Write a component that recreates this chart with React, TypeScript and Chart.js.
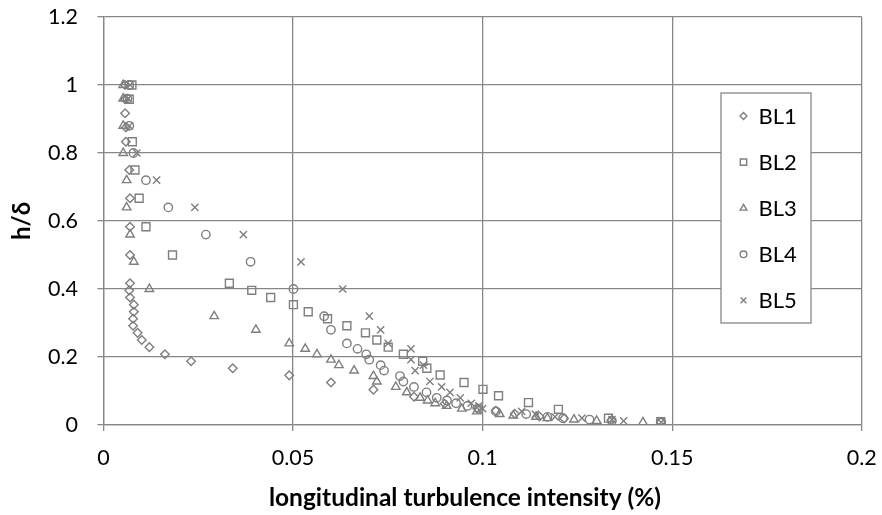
import React, { useEffect, useRef } from 'react';
import { Chart, registerables } from 'chart.js';
import { drawPoint } from 'chart.js/helpers';

Chart.register(...registerables);

// ---- data ----
const seriesNames = ['BL1', 'BL2', 'BL3', 'BL4', 'BL5'];

const bl1X = [0.0057, 0.0057, 0.0057, 0.0059, 0.0059, 0.0068, 0.007, 0.007, 0.007, 0.007, 0.0068, 0.007, 0.008, 0.008, 0.0078, 0.0078, 0.009, 0.0101, 0.0121, 0.0162, 0.0231, 0.0341, 0.049, 0.06, 0.0712, 0.0819, 0.09, 0.0985, 0.1035, 0.1085, 0.115, 0.1215, 0.134, 0.147];
const bl1Y = [1.0, 0.958, 0.917, 0.875, 0.833, 0.75, 0.667, 0.583, 0.5, 0.417, 0.396, 0.375, 0.354, 0.333, 0.3125, 0.292, 0.271, 0.25, 0.229, 0.208, 0.1875, 0.167, 0.146, 0.125, 0.104, 0.083, 0.0625, 0.05, 0.042, 0.033, 0.025, 0.019, 0.014, 0.009];

const bl2X = [0.0075, 0.0068, 0.0076, 0.0083, 0.0094, 0.0112, 0.0182, 0.0332, 0.0391, 0.0441, 0.0501, 0.054, 0.0591, 0.0642, 0.0691, 0.0721, 0.0751, 0.0791, 0.0842, 0.0853, 0.0888, 0.0951, 0.1001, 0.1042, 0.1121, 0.12, 0.1332, 0.147];
const bl2Y = [1.0, 0.958, 0.833, 0.75, 0.667, 0.583, 0.5, 0.417, 0.396, 0.375, 0.354, 0.333, 0.3125, 0.292, 0.271, 0.25, 0.229, 0.208, 0.1875, 0.167, 0.147, 0.125, 0.105, 0.086, 0.066, 0.046, 0.02, 0.01];

const bl3X = [0.0052, 0.0052, 0.0052, 0.0052, 0.0061, 0.0061, 0.007, 0.008, 0.0121, 0.0292, 0.0402, 0.049, 0.0532, 0.0563, 0.06, 0.0621, 0.0661, 0.0712, 0.0721, 0.0771, 0.08, 0.0835, 0.0855, 0.0875, 0.0905, 0.0945, 0.0985, 0.1045, 0.1081, 0.1141, 0.1171, 0.1241, 0.1301, 0.1423];
const bl3Y = [1.0, 0.96, 0.88, 0.8, 0.72, 0.64, 0.56, 0.48, 0.4, 0.32, 0.28, 0.24, 0.224, 0.208, 0.192, 0.176, 0.16, 0.144, 0.128, 0.112, 0.096, 0.08, 0.072, 0.064, 0.056, 0.048, 0.04, 0.032, 0.028, 0.024, 0.02, 0.016, 0.012, 0.008];

const bl4X = [0.0068, 0.0063, 0.0068, 0.0079, 0.0112, 0.0171, 0.027, 0.0388, 0.0501, 0.0582, 0.06, 0.0642, 0.067, 0.0693, 0.0701, 0.0731, 0.074, 0.0782, 0.0791, 0.0819, 0.0852, 0.0879, 0.0906, 0.093, 0.096, 0.099, 0.1035, 0.1115, 0.1171, 0.1212, 0.1282, 0.1341, 0.1471];
const bl4Y = [1.0, 0.96, 0.88, 0.8, 0.72, 0.64, 0.56, 0.48, 0.4, 0.32, 0.28, 0.24, 0.224, 0.208, 0.192, 0.176, 0.16, 0.144, 0.128, 0.112, 0.096, 0.08, 0.072, 0.064, 0.056, 0.048, 0.04, 0.032, 0.024, 0.02, 0.016, 0.012, 0.008];

const bl5X = [0.007, 0.0065, 0.0068, 0.0088, 0.014, 0.0241, 0.0369, 0.0521, 0.0631, 0.0701, 0.0731, 0.0751, 0.0811, 0.0811, 0.0844, 0.0822, 0.0861, 0.0892, 0.0914, 0.0941, 0.097, 0.099, 0.1, 0.1103, 0.1139, 0.1191, 0.1262, 0.1341, 0.1372, 0.1471];
const bl5Y = [1.0, 0.96, 0.88, 0.8, 0.72, 0.64, 0.56, 0.48, 0.4, 0.32, 0.28, 0.24, 0.224, 0.192, 0.176, 0.16, 0.128, 0.112, 0.096, 0.08, 0.064, 0.056, 0.048, 0.04, 0.032, 0.024, 0.02, 0.016, 0.012, 0.008];

const xTicks = [0, 0.05, 0.1, 0.15, 0.2];
const yTicks = [0, 0.2, 0.4, 0.6, 0.8, 1, 1.2];
const xTitle = 'longitudinal turbulence intensity (%)';
const yTitle = 'h/δ';

// ---- styles ----
const FONT = 'Lato';
const MARK = '#7f7f7f';
const GRID = '#878787';
const pointStyles = ['rectRot', 'rect', 'triangle', 'circle', 'crossRot'];
const pointRadii = [4.3, 5.6, 4.9, 4.2, 5.1];

const legendBoxPlugin = {
  id: 'legendBox',
  afterDraw(chart: any) {
    const ctx = chart.ctx;
    const bx = 721, by = 93, bw = 90, bh = 230;
    ctx.save();
    ctx.fillStyle = '#ffffff';
    ctx.fillRect(bx, by, bw, bh);
    ctx.strokeStyle = GRID;
    ctx.lineWidth = 1.3;
    ctx.strokeRect(bx, by, bw, bh);
    chart.data.datasets.forEach((ds: any, i: number) => {
      const cy = by + 23 + i * 46.1;
      ctx.strokeStyle = MARK;
      ctx.fillStyle = 'rgba(0,0,0,0)';
      ctx.lineWidth = 1.4;
      drawPoint(ctx, { pointStyle: ds.pointStyle, radius: ds.pointRadius * 0.8, rotation: 0, borderWidth: 1.4 }, 743.5, cy);
      ctx.fillStyle = '#000';
      ctx.font = `22px ${FONT}`;
      ctx.textAlign = 'left';
      ctx.textBaseline = 'middle';
      ctx.fillText(ds.label, 758.5, cy + 1);
    });
    // x axis title
    ctx.fillStyle = '#000';
    ctx.font = `bold 24.5px ${FONT}`;
    ctx.textAlign = 'center';
    ctx.textBaseline = 'middle';
    ctx.fillText(xTitle, 465, 498);
    ctx.restore();
  },
};

export default function App() {
  const ref = useRef<HTMLCanvasElement | null>(null);
  useEffect(() => {
    if (!ref.current) return;
    const xs = [bl1X, bl2X, bl3X, bl4X, bl5X];
    const ys = [bl1Y, bl2Y, bl3Y, bl4Y, bl5Y];
    const datasets = seriesNames.map((name, i) => ({
      label: name,
      data: xs[i].map((x, j) => ({ x, y: ys[i][j] })),
      pointStyle: pointStyles[i],
      pointRadius: pointRadii[i],
      pointBorderWidth: 1.4,
      borderColor: MARK,
      backgroundColor: 'rgba(0,0,0,0)',
      pointBackgroundColor: 'rgba(0,0,0,0)',
      pointBorderColor: MARK,
      showLine: false,
    }));
    const chart = new Chart(ref.current, {
      type: 'scatter',
      data: { datasets },
      options: {
        animation: false,
        responsive: false,
        devicePixelRatio: 1,
        layout: { padding: { top: 17, right: 20.3, left: 0, bottom: 0 } },
        plugins: { legend: { display: false }, tooltip: { enabled: false } },
        scales: {
          x: {
            type: 'linear',
            min: 0,
            max: 0.2,
            afterBuildTicks: (s: any) => { s.ticks = xTicks.map((v) => ({ value: v })); },
            afterFit: (s: any) => {
              s.height = 90;
              s.paddingLeft = 0; s.paddingRight = 0; s.paddingTop = 0; s.paddingBottom = 0;
            },
            ticks: {
              callback: (v: any) => String(v),
              font: { family: FONT, size: 21.5 },
              color: '#000',
              padding: 14,
              maxRotation: 0,
            },
            grid: { color: GRID, lineWidth: 1.3, tickLength: 6, drawTicks: true },
            border: { display: true, color: GRID, width: 1.3 },
          },
          y: {
            type: 'linear',
            min: 0,
            max: 1.2,
            afterBuildTicks: (s: any) => { s.ticks = yTicks.map((v) => ({ value: v })); },
            afterFit: (s: any) => {
              s.width = 103.5;
              s.paddingLeft = 0; s.paddingRight = 0; s.paddingTop = 0; s.paddingBottom = 0;
            },
            ticks: {
              callback: (v: any) => String(v),
              font: { family: FONT, size: 21.5 },
              color: '#000',
              padding: 19.5,
            },
            grid: { color: GRID, lineWidth: 1.3, tickLength: 6, drawTicks: true },
            border: { display: true, color: GRID, width: 1.3 },
            title: {
              display: true,
              text: yTitle,
              font: { family: FONT, size: 24, weight: 'bold' },
              color: '#000',
              padding: { top: 8, bottom: 0 },
            },
          },
        },
      },
      plugins: [legendBoxPlugin],
    } as any);
    return () => chart.destroy();
  }, []);
  return (
    <div style={{ position: 'absolute', left: 0, top: 0, width: 882, height: 515, background: '#fff' }}>
      <canvas ref={ref} width={882} height={515} style={{ width: 882, height: 515, display: 'block' }} />
    </div>
  );
}
